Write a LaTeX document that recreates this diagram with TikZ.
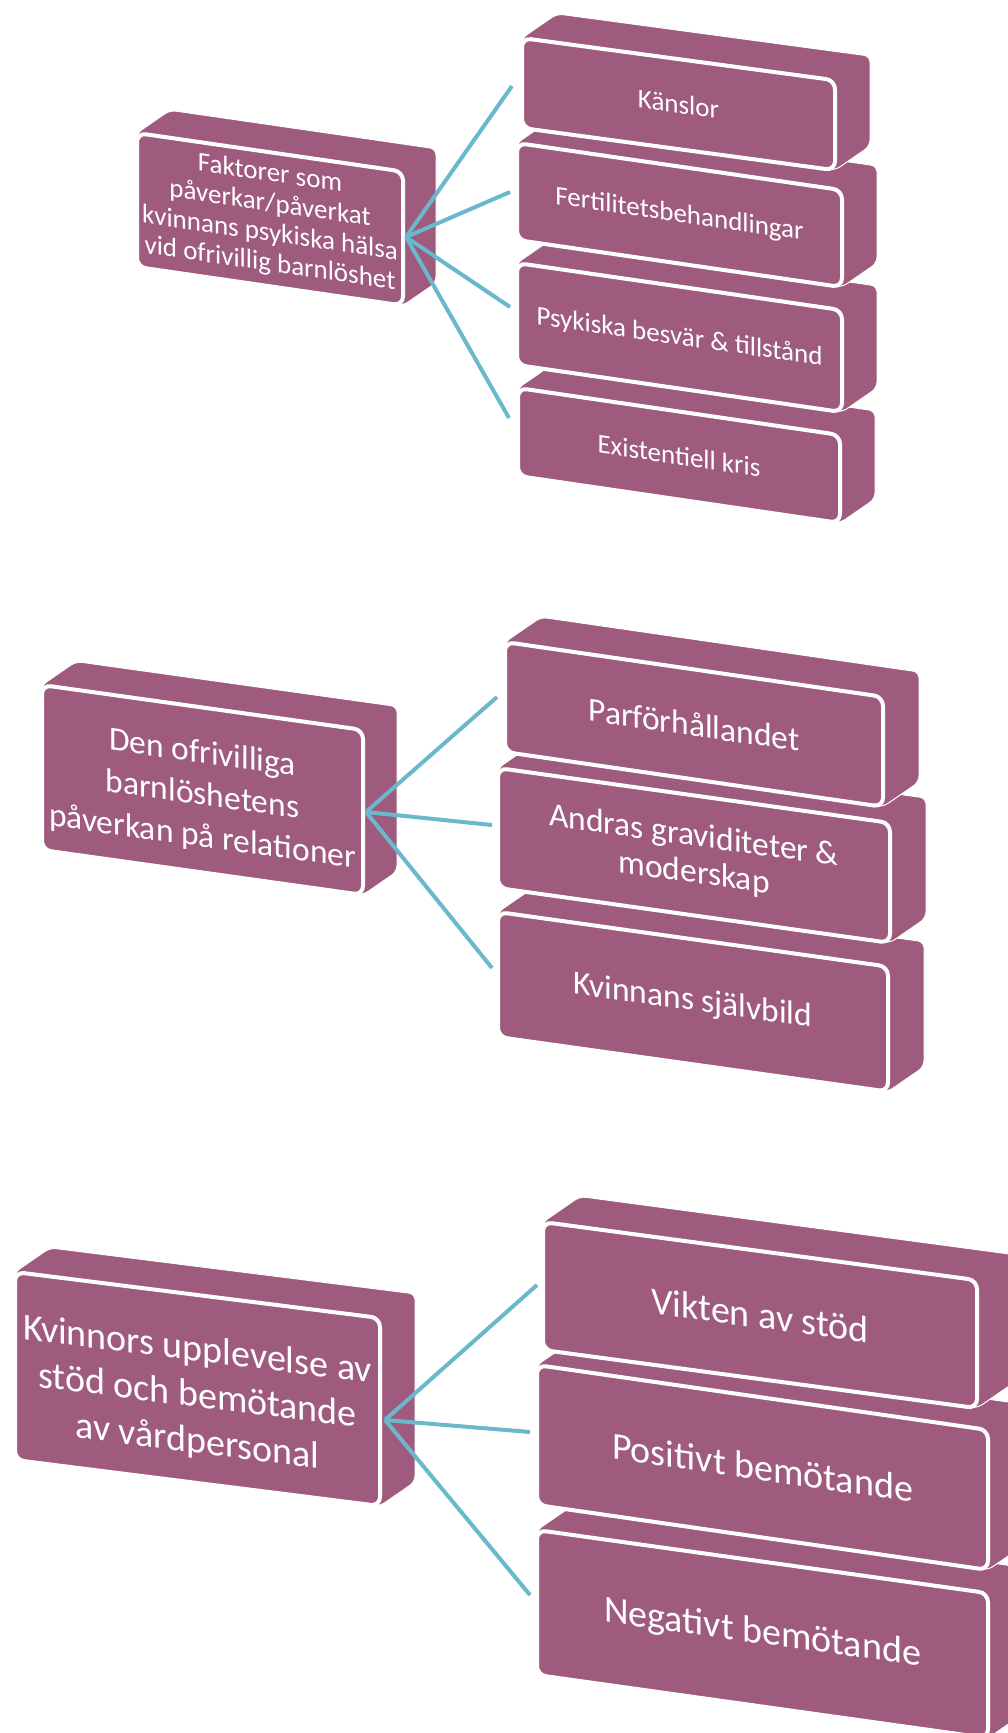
\documentclass[tikz,border=0pt]{standalone}
\usepackage{fontspec}
\setmainfont{Carlito}
\definecolor{boxpurple}{RGB}{159,91,126}
\definecolor{lineblue}{RGB}{107,183,204}
\tikzset{
  hullface/.style={fill=boxpurple, draw=white, line width=1pt, rounded corners=6pt},
  frontface/.style={fill=boxpurple, draw=white, line width=4pt, rounded corners=9pt},
  boxtext/.style={text=white, align=center, inner sep=0pt},
  conn/.style={draw=lineblue, line width=4pt},
}
\newcommand{\fA}{\fontsize{27}{30}\selectfont}
\newcommand{\fB}{\fontsize{33.5}{42}\selectfont}
\newcommand{\fBc}{\fontsize{33.5}{37}\selectfont}
\newcommand{\fC}{\fontsize{38}{46}\selectfont}
% #1 name, #2 x, #3 y (top-left of front face), #4 width, #5 height, #6 slope, #7 depth, #8 node options, #9 text
\newcommand{\skewbox}[9]{%
  \pgfmathsetmacro\bxr{#2+#4}%
  \pgfmathsetmacro\byr{#3+#4*#6}%
  \pgfmathsetmacro\bdy{-0.69*#7}%
  \path[hullface] (#2,#3) -- ({#2+#7},{#3+\bdy}) -- ({\bxr+#7},{\byr+\bdy}) -- ({\bxr+#7},{\byr+#5+\bdy}) -- (\bxr,{\byr+#5}) -- (#2,{#3+#5}) -- cycle;
  \path[frontface] (#2,#3) -- (\bxr,\byr) -- (\bxr,{\byr+#5}) -- (#2,{#3+#5}) -- cycle;
  \node[boxtext, yslant=-#6, #8] (#1) at ({#2+#4/2},{#3+#5/2+#4*#6/2}) {#9};
}
\begin{document}
\begin{tikzpicture}[x=1pt,y=-1pt]
\useasboundingbox (0,0) rectangle (1008,1733);
\clip (0,0) rectangle (1008,1733);

% ---------- group 1 ----------
\skewbox{p1}{137}{133}{266}{134}{0.145}{33}{font=\fA}{Faktorer som\\påverkar/påverkat\\kvinnans psykiska hälsa\\vid ofrivillig barnlöshet}
\skewbox{c14}{518}{388}{322}{88}{0.146}{35}{font=\fA}{Existentiell kris}
\skewbox{c13}{517}{263}{325}{102}{0.145}{35}{font=\fA}{Psykiska besvär \& tillstånd}
\skewbox{c12}{517}{143}{325}{97}{0.145}{35}{font=\fA}{Fertilitetsbehandlingar}
\skewbox{c11}{522}{38}{313}{90}{0.135}{35}{font=\fA}{Känslor}

\coordinate (h1) at (406,237);
\coordinate (e11) at (512,86);
\coordinate (e12) at (510,192);
\coordinate (e13) at (510,307);
\coordinate (e14) at (509,418);
\draw[conn] (h1) -- (e11);
\draw[conn] (h1) -- (e12);
\draw[conn] (h1) -- (e13);
\draw[conn] (h1) -- (e14);

% ---------- group 2 ----------
\skewbox{p2}{42}{685}{321}{165}{0.14}{34}{font=\fB, yshift=-6pt}{Den ofrivilliga\\barnlöshetens\\påverkan på relationer}
\skewbox{c23}{498}{912}{390}{125}{0.14}{36}{font=\fBc}{Kvinnans självbild}
\skewbox{c22}{498}{768}{392}{120}{0.14}{36}{font=\fBc}{Andras graviditeter \&\\moderskap}
\skewbox{c21}{505}{642}{378}{110}{0.145}{36}{font=\fBc}{Parförhållandet}

\coordinate (h2) at (366,812);
\coordinate (e21) at (497,697);
\coordinate (e22) at (492,825);
\coordinate (e23) at (492,968);
\draw[conn] (h2) -- (e21);
\draw[conn] (h2) -- (e22);
\draw[conn] (h2) -- (e23);

% ---------- group 3 ----------
\skewbox{p3}{15}{1272}{365}{188}{0.126}{35}{font=\fC, yshift=-8pt}{Kvinnors upplevelse av\\stöd och bemötande\\av vårdpersonal}
\skewbox{c33}{537}{1530}{451}{145}{0.14}{37}{font=\fC}{Negativt bemötande}
\skewbox{c32}{537}{1365}{451}{140}{0.144}{37}{font=\fC}{Positivt bemötande}
\skewbox{c31}{543}{1222}{434}{128}{0.134}{37}{font=\fC}{Vikten av stöd}

\coordinate (h3) at (385,1420);
\coordinate (e31) at (537,1285);
\coordinate (e32) at (530,1432);
\coordinate (e33) at (530,1595);
\draw[conn] (h3) -- (e31);
\draw[conn] (h3) -- (e32);
\draw[conn] (h3) -- (e33);
\end{tikzpicture}
\end{document}
